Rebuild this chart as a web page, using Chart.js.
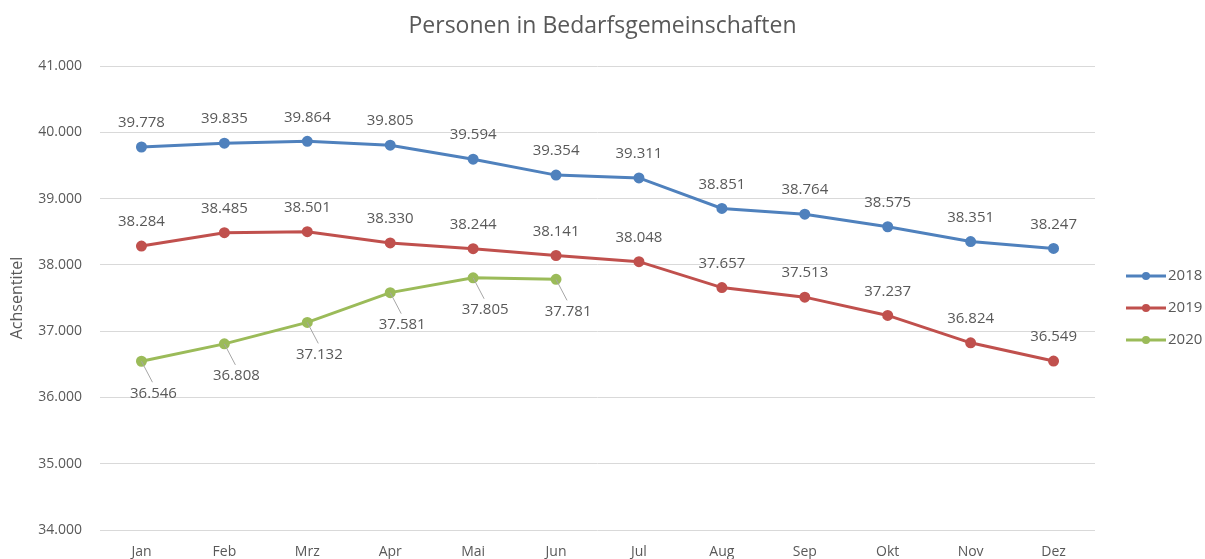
<!DOCTYPE html>
<html lang="de">
<head>
    <meta charset="UTF-8">
    <title>Personen in Bedarfsgemeinschaften</title>
    <script src="https://cdn.jsdelivr.net/npm/chart.js"></script>
    <style>
        body { margin: 0; background: #fff; }
        #wrap { width: 1205px; height: 559px; }
    </style>
</head>
<body>
    <div id="wrap"><canvas id="chart"></canvas></div>

    <script>
        // Daten
        const months = ['Jan', 'Feb', 'Mrz', 'Apr', 'Mai', 'Jun', 'Jul', 'Aug', 'Sep', 'Okt', 'Nov', 'Dez'];
        const values2018 = [39778, 39835, 39864, 39805, 39594, 39354, 39311, 38851, 38764, 38575, 38351, 38247];
        const values2019 = [38284, 38485, 38501, 38330, 38244, 38141, 38048, 37657, 37513, 37237, 36824, 36549];
        const values2020 = [36546, 36808, 37132, 37581, 37805, 37781, null, null, null, null, null, null];
        const yTicks = [34000, 35000, 36000, 37000, 38000, 39000, 40000, 41000];

        const FONT = "'Open Sans', sans-serif";
        const GREY = '#595959';

        function fmt(v) {
            return String(v).replace(/\B(?=(\d{3})+(?!\d))/g, '.');
        }

        // Titel ueber die ganze Breite zentriert
        const chartTitle = {
            id: 'chartTitle',
            afterDraw(chart) {
                const ctx = chart.ctx;
                ctx.save();
                ctx.font = '23px ' + FONT;
                ctx.fillStyle = GREY;
                ctx.textAlign = 'center';
                ctx.textBaseline = 'middle';
                ctx.fillText('Personen in Bedarfsgemeinschaften', chart.width / 2, 26);
                ctx.restore();
            }
        };

        // Datenbeschriftungen (2018/2019 oben, 2020 unten mit Linie)
        const valueLabels = {
            id: 'valueLabels',
            afterDatasetsDraw(chart) {
                const ctx = chart.ctx;
                ctx.save();
                ctx.font = '15px ' + FONT;
                ctx.fillStyle = GREY;
                ctx.textAlign = 'center';
                ctx.textBaseline = 'middle';
                chart.data.datasets.forEach((ds, i) => {
                    const meta = chart.getDatasetMeta(i);
                    meta.data.forEach((pt, j) => {
                        const v = ds.data[j];
                        if (v == null) return;
                        if (i < 2) {
                            ctx.fillText(fmt(v), pt.x, pt.y - 24);
                        } else {
                            const lx = pt.x + 12, ly = pt.y + 32;
                            ctx.strokeStyle = '#a6a6a6';
                            ctx.lineWidth = 1;
                            ctx.beginPath();
                            ctx.moveTo(pt.x, pt.y);
                            ctx.lineTo(lx - 1, ly - 11);
                            ctx.stroke();
                            ctx.fillText(fmt(v), lx, ly);
                        }
                    });
                });
                ctx.restore();
            }
        };

        // Legende rechts
        const sideLegend = {
            id: 'sideLegend',
            afterDraw(chart) {
                const ctx = chart.ctx;
                ctx.save();
                ctx.font = '15px ' + FONT;
                ctx.textBaseline = 'middle';
                chart.data.datasets.forEach((ds, i) => {
                    const y = 276 + i * 32;
                    const x = 1126;
                    ctx.strokeStyle = ds.borderColor;
                    ctx.lineWidth = 3;
                    ctx.beginPath();
                    ctx.moveTo(x, y);
                    ctx.lineTo(x + 40, y);
                    ctx.stroke();
                    ctx.fillStyle = ds.borderColor;
                    ctx.beginPath();
                    ctx.arc(x + 20, y, 4, 0, Math.PI * 2);
                    ctx.fill();
                    ctx.fillStyle = GREY;
                    ctx.fillText(ds.label, x + 42, y);
                });
                ctx.restore();
            }
        };

        function series(label, data, color) {
            return {
                label: label,
                data: data,
                borderColor: color,
                backgroundColor: color,
                borderWidth: 3,
                pointRadius: 4,
                pointHoverRadius: 4,
                tension: 0,
                spanGaps: false
            };
        }

        new Chart(document.getElementById('chart'), {
            type: 'line',
            data: {
                labels: months,
                datasets: [
                    series('2018', values2018, '#4F81BD'),
                    series('2019', values2019, '#C0504D'),
                    series('2020', values2020, '#9BBB59')
                ]
            },
            options: {
                responsive: true,
                maintainAspectRatio: false,
                animation: false,
                layout: { padding: { left: 0, right: 110, top: 66, bottom: 0 } },
                plugins: {
                    legend: { display: false },
                    tooltip: { enabled: false },
                    title: { display: false }
                },
                scales: {
                    x: {
                        offset: true,
                        grid: { display: false },
                        border: { display: false },
                        ticks: { color: GREY, font: { family: FONT, size: 14 }, padding: 6, maxRotation: 0 },
                        afterFit(s) { s.height = 29; }
                    },
                    y: {
                        min: yTicks[0],
                        max: yTicks[yTicks.length - 1],
                        afterBuildTicks(s) { s.ticks = yTicks.map(v => ({ value: v })); },
                        grid: { color: '#d9d9d9', drawTicks: false },
                        border: { display: false },
                        ticks: {
                            color: GREY,
                            font: { family: FONT, size: 14 },
                            padding: 18,
                            callback: v => fmt(v)
                        },
                        title: {
                            display: true,
                            text: 'Achsentitel',
                            color: GREY,
                            font: { family: FONT, size: 16 },
                            padding: { top: 8, bottom: 0 }
                        },
                        afterFit(s) { s.width = 100; }
                    }
                }
            },
            plugins: [chartTitle, valueLabels, sideLegend]
        });
    </script>
</body>
</html>
